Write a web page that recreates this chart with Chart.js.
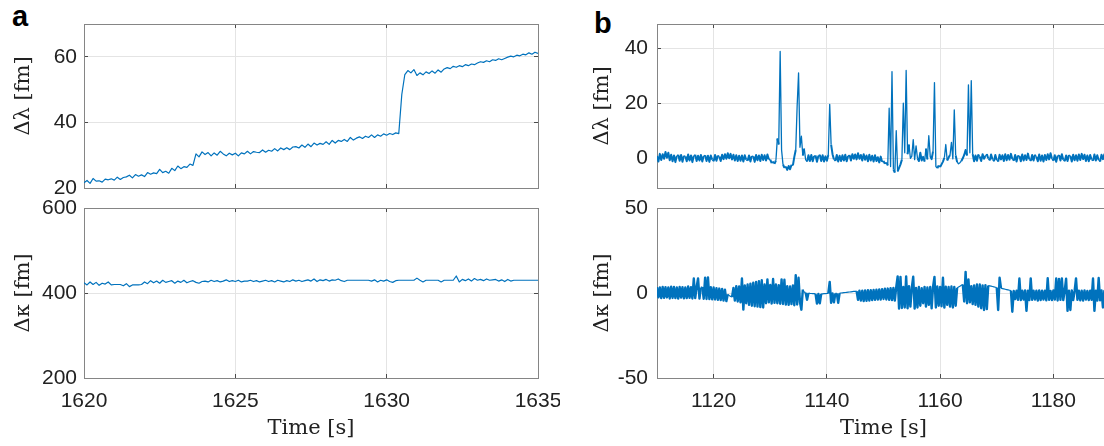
<!DOCTYPE html>
<html>
<head>
<meta charset="utf-8">
<script src="https://cdn.jsdelivr.net/npm/chart.js@4/dist/chart.umd.min.js"></script>
<style>
  html, body { margin: 0; padding: 0; background: #fff; overflow: hidden; width: 1104px; height: 446px; }
  .panel { position: absolute; }
  .tag { position: absolute; font: bold 29px "Liberation Sans", Arial, sans-serif; line-height: 1; color: #000; }
</style>
</head>
<body>
<div class="tag" style="left:12px;top:2px">a</div>
<div class="tag" style="left:594px;top:9px">b</div>
<canvas id="aTop" class="panel" width="560" height="210" style="left:0;top:0;width:560px;height:210px"></canvas>
<canvas id="aBot" class="panel" width="560" height="256" style="left:0;top:190px;width:560px;height:256px"></canvas>
<canvas id="bTop" class="panel" width="550" height="210" style="left:580px;top:0;width:550px;height:210px"></canvas>
<canvas id="bBot" class="panel" width="550" height="256" style="left:580px;top:190px;width:550px;height:256px"></canvas>
<script>
// ---- panel a: time axis and the two traces ----
const timeA = [
  1620,1620.1,1620.2,1620.3,1620.4,1620.5,1620.6,1620.7,1620.8,1620.9,
  1621,1621.1,1621.2,1621.3,1621.4,1621.5,1621.6,1621.7,1621.8,1621.9,
  1622,1622.1,1622.2,1622.3,1622.4,1622.5,1622.6,1622.7,1622.8,1622.9,
  1623,1623.1,1623.2,1623.3,1623.4,1623.5,1623.6,1623.7,1623.8,1623.9,
  1624,1624.1,1624.2,1624.3,1624.4,1624.5,1624.6,1624.7,1624.8,1624.9,
  1625,1625.1,1625.2,1625.3,1625.4,1625.5,1625.6,1625.7,1625.8,1625.9,
  1626,1626.1,1626.2,1626.3,1626.4,1626.5,1626.6,1626.7,1626.8,1626.9,
  1627,1627.1,1627.2,1627.3,1627.4,1627.5,1627.6,1627.7,1627.8,1627.9,
  1628,1628.1,1628.2,1628.3,1628.4,1628.5,1628.6,1628.7,1628.8,1628.9,
  1629,1629.1,1629.2,1629.3,1629.4,1629.5,1629.6,1629.7,1629.8,1629.9,
  1630,1630.1,1630.2,1630.3,1630.4,1630.5,1630.6,1630.7,1630.8,1630.9,
  1631,1631.1,1631.2,1631.3,1631.4,1631.5,1631.6,1631.7,1631.8,1631.9,
  1632,1632.1,1632.2,1632.3,1632.4,1632.5,1632.6,1632.7,1632.8,1632.9,
  1633,1633.1,1633.2,1633.3,1633.4,1633.5,1633.6,1633.7,1633.8,1633.9,
  1634,1634.1,1634.2,1634.3,1634.4,1634.5,1634.6,1634.7,1634.8,1634.9,
  1635
];
const lambdaA = [
  21.6,22.3,21.4,22.9,22.1,22.2,21.8,22.7,22.5,22.8,
  22.4,23.3,22.6,23.2,23.4,23.9,23.1,24.1,23.6,24.0,
  23.5,24.7,24.2,24.6,24.4,25.7,24.7,25.1,24.5,26.0,
  25.3,26.7,25.9,26.5,26.3,27.3,26.9,30.4,29.5,31.0,
  30.2,30.8,29.8,30.7,30.0,31.2,30.4,29.8,30.6,30.1,
  30.6,29.8,30.7,30.4,31.2,30.4,31.1,30.9,30.8,31.6,
  30.9,31.5,31.2,32.0,31.3,32.2,31.7,32.3,31.7,32.5,
  32.6,32.2,33.1,32.4,33.4,32.6,33.7,33.1,33.6,33.3,
  34.1,33.3,34.5,33.7,34.5,34.2,34.8,34.2,35.4,34.6,
  35.2,35.6,35.1,35.8,35.4,36.2,35.4,36.2,35.8,36.5,
  36.1,36.6,36.3,36.8,36.6,48.5,54.6,55.8,55.1,56.1,
  54.3,55.1,54.5,55.4,54.9,55.7,55.0,56.0,55.3,56.3,
  56.7,56.4,57.1,56.8,57.3,57.0,57.6,57.3,57.8,57.6,
  58.1,58.5,58.3,58.8,58.5,59.1,58.9,59.4,59.1,59.5,
  59.9,60.2,60.0,60.5,60.3,60.8,60.6,61.2,60.8,61.4,
  61.0
];
const kappaA = [
  424,419,426,420,425,418,423,421,426,419,
  420,420,420,417,422,415,419,419,419,420,
  426,422,429,424,428,423,430,425,427,429,
  423,428,425,430,424,427,429,425,423,427,
  428,426,430,427,429,426,428,431,427,429,
  427,430,426,428,428,430,427,429,426,428,
  430,427,429,426,430,428,426,429,427,431,
  428,430,427,429,431,428,433,427,431,429,
  432,428,431,430,433,429,427,430,430,430,
  430,430,430,430,430,428,431,426,430,428,
  431,427,425,429,430,430,430,430,430,430,
  435,430,426,430,430,430,430,430,426,430,
  430,430,430,440,426,432,429,433,428,434,
  430,432,429,433,430,431,432,428,431,427,
  432,428,430,430,430,430,430,430,430,430,
  430
];

// ---- panel b: time axis and the two traces ----
const timeB = [
  1110,1110.25,1110.5,1110.75,1111,1111.25,1111.5,1111.75,1112,1112.25,1112.5,1112.75,1113,1113.25,1113.5,1113.75,1114,1114.25,1114.5,1114.75,
  1115,1115.25,1115.5,1115.75,1116,1116.25,1116.5,1116.75,1117,1117.25,1117.5,1117.75,1118,1118.25,1118.5,1118.75,1119,1119.25,1119.5,1119.75,
  1120,1120.25,1120.5,1120.75,1121,1121.25,1121.5,1121.75,1122,1122.25,1122.5,1122.75,1123,1123.25,1123.5,1123.75,1124,1124.25,1124.5,1124.75,
  1125,1125.25,1125.5,1125.75,1126,1126.25,1126.5,1126.75,1127,1127.25,1127.5,1127.75,1128,1128.25,1128.5,1128.75,1129,1129.25,1129.5,1129.75,
  1130,1130.25,1130.5,1130.75,1131,1131.25,1131.5,1131.75,1132,1132.25,1132.5,1132.75,1133,1133.25,1133.5,1133.75,1134,1134.25,1134.5,1134.75,
  1135,1135.25,1135.5,1135.75,1136,1136.25,1136.5,1136.75,1137,1137.25,1137.5,1137.75,1138,1138.25,1138.5,1138.75,1139,1139.25,1139.5,1139.75,
  1140,1140.25,1140.5,1140.75,1141,1141.25,1141.5,1141.75,1142,1142.25,1142.5,1142.75,1143,1143.25,1143.5,1143.75,1144,1144.25,1144.5,1144.75,
  1145,1145.25,1145.5,1145.75,1146,1146.25,1146.5,1146.75,1147,1147.25,1147.5,1147.75,1148,1148.25,1148.5,1148.75,1149,1149.25,1149.5,1149.75,
  1150,1150.25,1150.5,1150.75,1151,1151.25,1151.5,1151.75,1152,1152.25,1152.5,1152.75,1153,1153.25,1153.5,1153.75,1154,1154.25,1154.5,1154.75,
  1155,1155.25,1155.5,1155.75,1156,1156.25,1156.5,1156.75,1157,1157.25,1157.5,1157.75,1158,1158.25,1158.5,1158.75,1159,1159.25,1159.5,1159.75,
  1160,1160.25,1160.5,1160.75,1161,1161.25,1161.5,1161.75,1162,1162.25,1162.5,1162.75,1163,1163.25,1163.5,1163.75,1164,1164.25,1164.5,1164.75,
  1165,1165.25,1165.5,1165.75,1166,1166.25,1166.5,1166.75,1167,1167.25,1167.5,1167.75,1168,1168.25,1168.5,1168.75,1169,1169.25,1169.5,1169.75,
  1170,1170.25,1170.5,1170.75,1171,1171.25,1171.5,1171.75,1172,1172.25,1172.5,1172.75,1173,1173.25,1173.5,1173.75,1174,1174.25,1174.5,1174.75,
  1175,1175.25,1175.5,1175.75,1176,1176.25,1176.5,1176.75,1177,1177.25,1177.5,1177.75,1178,1178.25,1178.5,1178.75,1179,1179.25,1179.5,1179.75,
  1180,1180.25,1180.5,1180.75,1181,1181.25,1181.5,1181.75,1182,1182.25,1182.5,1182.75,1183,1183.25,1183.5,1183.75,1184,1184.25,1184.5,1184.75,
  1185,1185.25,1185.5,1185.75,1186,1186.25,1186.5,1186.75,1187,1187.25,1187.5,1187.75,1188,1188.25,1188.5,1188.75,1189,1189.25,1189.5,1189.75,
  1190
];
const lambdaB = [
  0.8,-1.2,1.6,-0.6, 1.5,-0.2,2.3,0.2, 2.0,-0.7,1.3,-1.1, 1.0,-1.4,0.8,1.3, -0.9,1.2,-1.3,0.9,
  0.7,-1.1,1.4,-0.8, 1.0,-1.4,0.9,1.3, -1.0,0.9,-0.8,1.2, -1.2,0.8,1.1,-1.0, 0.9,-1.3,1.0,-0.5,
  -1.1,1.2,-0.9,1.0, 0.6,-1.0,1.3,-0.3, 1.5,-0.2,1.8,0.0, 1.6,-0.4,1.3,-0.8, 1.1,-1.0,0.9,-0.9,
  1.0,-1.2,1.1,-0.5, -0.9,1.0,-1.2,0.8, 0.7,-1.3,1.2,-0.7, 1.0,-1.0,1.3,-0.6, 1.1,-0.8,1.4,-0.4,
  -0.5,-1.8,-1.2,-2.0, -0.8,7.2,5.0,38.8, 3.0,-2.2,-3.5,-3.0, -4.2,-2.8,-4.0,-2.4, -2.6,0.5,3.0,19.0,
  31.0,4.0,8.0,1.0, 3.5,-0.5,-1.2,1.1, -1.0,1.2,-1.1,0.8, 1.0,-1.3,0.9,1.3, -1.0,1.1,-1.2,0.7,
  -0.9,1.2,19.6,5.0, 1.5,-0.4,-1.0,1.2, -1.2,0.9,-1.0,1.1, -0.8,1.3,-1.1,0.8, 1.2,-0.8,1.5,-0.2,
  1.4,-0.4,1.8,-0.2, 1.2,-0.8,1.5,-0.5, 1.0,-1.1,1.3,-0.8, 0.9,-1.2,1.1,-1.0, 0.4,-1.5,0.6,-1.3,
  -1.0,-2.0,-1.5,-2.6, 18.2,-3.0,31.5,-4.0, -5.2,10.0,-4.8,-3.5, -2.2,-0.5,20.0,2.0, 31.9,1.5,5.0,0.0,
  0.8,6.8,-0.5,4.5, 0.0,-1.0,2.0,-0.8, 0.5,-1.2,3.5,-0.4, 8.2,0.8,-0.3,2.5, 27.5,-3.0,-3.6,-2.6,
  -3.2,-2.2,-1.2,0.2, 5.0,-0.8,0.3,1.2, 5.8,-0.2,17.6,1.0, -1.4,-2.0,-1.6,-1.0, 0.0,1.2,3.0,1.0,
  26.7,2.0,28.2,1.5, -1.1,1.0,-0.9,1.4, 0.6,-1.0,1.5,-0.2, 0.8,1.5,-0.1,-0.8, 1.4,-0.4,-1.1,1.2,
  -0.6,-1.2,1.3,-0.4, 1.1,-1.0,1.5,-0.7, 1.2,-0.5,1.6,-0.3, -0.9,1.2,-1.2,1.0, 0.8,-1.1,1.4,-0.8,
  1.1,-0.6,1.7,-0.4, -1.0,1.2,-0.8,1.3, 0.5,-1.1,1.4,-0.9, 1.0,-1.2,1.2,-0.6, 1.5,-0.4,1.8,-0.2,
  -0.9,1.1,-1.3,0.9, 1.2,-0.8,1.5,-0.5, -1.1,1.0,-1.0,1.2, 0.8,-1.2,1.3,-0.7, 1.1,-0.9,1.4,-0.6,
  1.6,-0.3,1.3,-1.0, 1.0,-1.1,1.2,-0.5, -0.9,1.4,-0.8,1.1, -0.6,-1.2,1.3,-0.3, 1.5,-0.4,1.1,-0.9,
  0.4
];
const kappaB = [
  3.5,-2.5,3.2,-3.0, 3.6,-2.8,3.4,-2.6, 3.3,-3.2,3.7,-2.9, 3.5,-3.0,3.2,-3.3, 3.6,-2.7,3.4,-3.1,
  3.2,-3.0,3.8,-2.8, 3.4,-3.2,8.5,-3.0, 3.5,8.6,-3.3,3.3, 3.6,-3.4,9.0,-3.5, 9.2,-3.6,3.4,-3.7,
  3.2,-3.8,2.8,-4.0, 2.6,-4.2,2.4,-4.5, 2.0,-4.8,-0.8,-1.5, -2.0,-2.4,3.0,-4.5, 4.0,-5.0,3.8,-5.5,
  8.5,-9.8,4.5,-6.0, 5.0,-7.0,5.5,-7.5, 6.0,-7.8,6.5,-8.0, 7.0,-8.3,7.5,-8.5, 5.0,-6.0,8.0,-5.5,
  4.8,-6.2,8.2,-5.8, 5.0,-6.0,4.6,-6.3, 8.0,-6.5,7.8,-6.8, 4.0,-7.0,3.8,-6.5, 4.5,-7.2,10.5,-6.8,
  9.0,-5.5,-9.8,2.0, 0.5,0.2,-4.0,0.0, -0.2,-0.3,-0.4,-0.4, -0.5,-6.2,-0.6,-6.0, -0.5,-0.5,-0.4,-0.4,
  -0.3,-0.3,6.5,-5.8, -0.2,-5.5,-0.2,-0.2, -5.8,-0.1,0.0,0.1, 0.2,0.3,0.4,0.5, 0.6,0.7,0.8,0.9,
  1.0,1.1,-4.0,1.3, -4.5,1.4,-4.8,1.5, -4.6,1.6,-4.4,1.7, -4.2,1.8,-4.0,2.0, -3.8,2.1,-3.9,2.3,
  -3.5,2.5,-3.8,2.6, -4.0,2.8,-4.2,3.0, -4.5,3.4,9.8,-9.2, 9.5,-8.8,3.5,-8.5, 9.8,-9.0,4.0,-8.0,
  3.2,9.6,-9.2,3.0, -8.5,3.5,-7.5,2.8, -6.0,3.6,-8.0,3.2, -7.0,3.5,-9.0,3.6, 9.5,-8.5,3.8,-7.5,
  3.6,-7.8,9.0,-8.6, 3.7,-7.0,3.5,-8.0, 3.8,-8.5,3.6,-7.5, 3.0,3.5,4.0,4.5, 5.0,-5.0,12.4,-6.0,
  8.0,-5.5,4.0,-6.5, 4.5,-7.0,5.0,-8.0, 5.0,-9.0,4.5,-10.0, 4.6,-9.5,4.4,4.2, 4.0,3.8,3.6,3.4,
  3.2,-10.0,9.0,2.8, 2.6,2.4,2.2,2.0, 1.8,1.6,1.4,-11.0, 1.2,-3.5,1.3,-4.0, 8.5,-4.2,1.4,-3.8,
  1.5,-10.5,1.4,-4.2, 8.6,-4.0,1.3,-3.9, 1.4,-4.4,1.5,-4.1, 1.3,-3.8,1.4,-4.3, 8.7,-4.0,1.2,-4.2,
  1.5,-3.9,8.5,-4.4, 8.3,-4.0,8.6,-4.2, 1.4,8.4,-10.5,1.3, -10.0,1.5,-4.1,1.2, 8.6,-4.0,1.4,-4.3,
  1.3,-4.4,1.5,-3.8, 1.2,-4.2,1.4,-4.0, 8.5,-10.5,1.3,-4.5, 8.8,-4.3,1.5,-8.5, 1.2,-5.0,1.4,-4.6,
  1.3
];

// ---- ticks ----
const xTicksA = [1620, 1625, 1630, 1635];
const yTicksLambdaA = [20, 40, 60];
const yTicksKappaA = [200, 400, 600];
const xTicksB = [1120, 1140, 1160, 1180];
const yTicksLambdaB = [0, 20, 40];
const yTicksKappaB = [-50, 0, 50];

// ---- look ----
const TICK_FONT = { family: '"Liberation Sans", Arial, sans-serif', size: 21 };
const TITLE_FONT = { family: '"DejaVu Serif", serif', size: 21 };
const GRID = '#e4e4e4';
const BOX = '#858585';
const TICKMARK = '#4a4a4a';
const TEXT = '#222222';
const LINE = '#0072bd';

function setTicks(values) {
  return s => { s.ticks = values.map(v => ({ value: v })); };
}

// force the box size of an axis so the plot area lands where the reference has it
function fixBox(w, h) {
  return s => {
    if (w !== null) s.width = w;
    if (h !== null) s.height = h;
    s.paddingLeft = s.paddingRight = s.paddingTop = s.paddingBottom = 0;
  };
}

function makePanel(id, p) {
  const frame = (axisTicks, min, max, pos) => ({
    type: 'linear', position: pos, min: min, max: max,
    afterBuildTicks: setTicks(axisTicks),
    afterFit: (pos === 'top') ? fixBox(null, 0) : fixBox(0, null),
    grid: { color: 'rgba(0,0,0,0)', tickColor: TICKMARK, tickLength: -4 },
    border: { color: BOX, width: 1 },
    ticks: { display: false }
  });

  const ds = {
    data: p.times.map((t, i) => ({ x: t, y: p.values[i] })),
    borderColor: LINE,
    borderWidth: p.lineW,
    borderJoinStyle: 'round',
    pointRadius: 0,
    fill: false,
    tension: 0
  };
  // dense noise reads as a solid band in the original: stroke those jumps wider
  if (p.jumpW) {
    ds.segment = {
      borderWidth: c => {
        const d = Math.abs(c.p1.parsed.y - c.p0.parsed.y);
        return (d > p.jumpMin && d < p.jumpMax) ? p.jumpW : p.lineW;
      }
    };
  }

  return new Chart(document.getElementById(id), {
    type: 'line',
    data: { datasets: [ds] },
    options: {
      responsive: false,
      animation: false,
      devicePixelRatio: 1,
      events: [],
      layout: { padding: { top: p.padTop, right: p.padRight, left: 0, bottom: 0 } },
      plugins: { legend: { display: false }, tooltip: { enabled: false } },
      scales: {
        x: {
          type: 'linear', position: 'bottom', min: p.xMin, max: p.xMax,
          afterBuildTicks: setTicks(p.xTicks),
          afterFit: fixBox(null, p.xH),
          grid: { color: GRID, tickColor: TICKMARK, tickLength: -4 },
          border: { color: BOX, width: 1 },
          ticks: { display: p.showX, font: TICK_FONT, color: TEXT, padding: 15, maxRotation: 0, autoSkip: false, callback: v => String(v) },
          title: { display: p.showX, text: 'Time [s]', font: TITLE_FONT, color: TEXT, padding: { top: 0, bottom: 5 } }
        },
        y: {
          type: 'linear', position: 'left', min: p.yMin, max: p.yMax,
          afterBuildTicks: setTicks(p.yTicks),
          afterFit: fixBox(p.yW, null),
          grid: { color: GRID, tickColor: TICKMARK, tickLength: -4 },
          border: { color: BOX, width: 1 },
          ticks: { font: TICK_FONT, color: TEXT, padding: p.yLabelPad, autoSkip: false, callback: v => String(v) },
          title: { display: true, text: p.yTitle, font: TITLE_FONT, color: TEXT, padding: { top: p.yTitlePad, bottom: 0 } }
        },
        x2: frame(p.xTicks, p.xMin, p.xMax, 'top'),
        y2: frame(p.yTicks, p.yMin, p.yMax, 'right')
      }
    }
  });
}

makePanel('aTop', {
  times: timeA, values: lambdaA, xMin: 1620, xMax: 1635, xTicks: xTicksA,
  yMin: 20, yMax: 70, yTicks: yTicksLambdaA, yTitle: '\u00a0\u00a0\u00a0Δλ [fm]',
  yW: 84, yLabelPad: 11, yTitlePad: 11.4, padTop: 24, padRight: 22, xH: 22, showX: false, lineW: 1.2
});
makePanel('aBot', {
  times: timeA, values: kappaA, xMin: 1620, xMax: 1635, xTicks: xTicksA,
  yMin: 200, yMax: 600, yTicks: yTicksKappaA, yTitle: 'Δκ [fm]',
  yW: 84, yLabelPad: 11, yTitlePad: 11.4, padTop: 18, padRight: 22, xH: 68, showX: true, lineW: 1.2
});
makePanel('bTop', {
  times: timeB, values: lambdaB, xMin: 1110, xMax: 1190, xTicks: xTicksB,
  yMin: -10.8, yMax: 48.8, yTicks: yTicksLambdaB, yTitle: 'Δλ [fm]',
  yW: 77, yLabelPad: 13, yTitlePad: 10.4, padTop: 24, padRight: 20, xH: 22, showX: false,
  lineW: 1.3, jumpW: 2.0, jumpMin: 0.8, jumpMax: 4
});
makePanel('bBot', {
  times: timeB, values: kappaB, xMin: 1110, xMax: 1190, xTicks: xTicksB,
  yMin: -50, yMax: 50, yTicks: yTicksKappaB, yTitle: 'Δκ [fm]',
  yW: 77, yLabelPad: 13, yTitlePad: 10.4, padTop: 18, padRight: 20, xH: 68, showX: true,
  lineW: 1.2, jumpW: 2.4, jumpMin: 2.5, jumpMax: 1000
});
</script>
</body>
</html>
